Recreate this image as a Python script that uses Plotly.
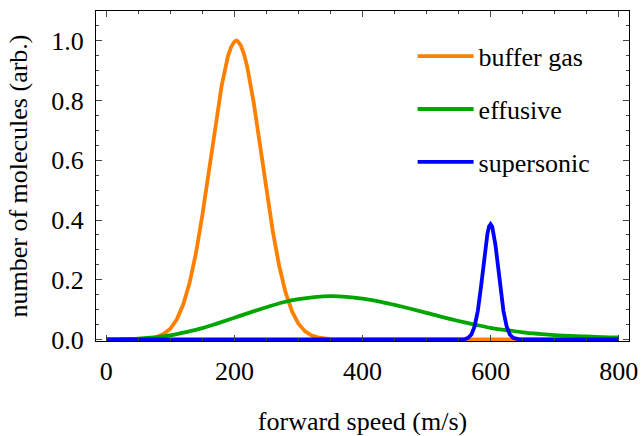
import plotly.graph_objects as go

# ---- data ----
buffer_x = [0, 50, 60, 70, 80, 90, 100, 110, 120, 130, 140, 150, 160, 170, 180, 190, 195, 200,
            202.5, 205, 207.5, 210, 215, 220, 230, 240, 250, 260, 270, 280, 290, 300, 310, 320,
            330, 340, 350, 360, 800]
buffer_y = [0.0, 0.0, 0.002, 0.004, 0.009, 0.019, 0.036, 0.067, 0.116, 0.189, 0.289, 0.416,
            0.561, 0.712, 0.848, 0.949, 0.980, 0.997, 1.001, 0.999, 0.994, 0.985, 0.956, 0.914,
            0.796, 0.652, 0.501, 0.362, 0.246, 0.157, 0.094, 0.053, 0.028, 0.014, 0.007,
            0.003, 0.001, 0.0, 0.0]

effusive_x = [0, 25, 50, 75, 100, 125, 150, 175, 200, 225, 250, 275, 300, 325, 350, 375, 400,
              425, 450, 475, 500, 525, 550, 575, 600, 625, 650, 675, 700, 725, 750, 775, 800]
effusive_y = [0.0, 0.001, 0.003, 0.007, 0.014, 0.025, 0.038, 0.055, 0.073, 0.091, 0.108,
              0.124, 0.135, 0.142, 0.145, 0.143, 0.137, 0.128, 0.116, 0.103, 0.089, 0.075,
              0.062, 0.050, 0.039, 0.031, 0.024, 0.019, 0.015, 0.012, 0.010, 0.008, 0.007]

super_x = [0, 550, 555, 560, 565, 570, 575, 580, 585, 590, 592.5, 595, 597.5, 600, 602.5, 605,
           607.5, 610, 615, 620, 625, 630, 635, 640, 645, 650, 800]
super_y = [0.0, 0.0, 0.0003, 0.0015, 0.0055, 0.017, 0.044, 0.096, 0.177, 0.273, 0.317, 0.354,
           0.378, 0.386, 0.378, 0.354, 0.317, 0.273, 0.177, 0.096, 0.044, 0.017, 0.0055,
           0.0015, 0.0003, 0.0, 0.0]

names = ["buffer gas", "effusive", "supersonic"]
colors = ["#FF8000", "#00A600", "#0000FF"]
shapes = ["linear", "spline", "linear"]

x_ticks = [0, 200, 400, 600, 800]
y_ticks = [0.0, 0.2, 0.4, 0.6, 0.8, 1.0]

FONT = "'Liberation Serif', 'DejaVu Serif', serif"

fig = go.Figure()
for i, (xs, ys) in enumerate([(buffer_x, buffer_y), (effusive_x, effusive_y), (super_x, super_y)]):
    fig.add_trace(go.Scatter(
        x=xs, y=ys, mode="lines", name=names[i], legendgroup=names[i],
        line=dict(color=colors[i], width=3.8, shape=shapes[i]),
    ))

axis_common = dict(
    showgrid=False, zeroline=False, showline=True, linecolor="black", linewidth=1,
    mirror="allticks", ticks="inside", ticklen=6, tickcolor="#444", tickwidth=1,
    tickfont=dict(family=FONT, size=26, color="black"), automargin=False,
)

fig.update_xaxes(
    **axis_common, range=[-16, 816], tickvals=x_ticks, ticklabelstandoff=7,
    minor=dict(dtick=50, tick0=0, ticklen=3, ticks="inside", tickcolor="#444"),
    title=dict(text="forward speed (m/s)", font=dict(family=FONT, size=26, color="black"), standoff=38),
)
fig.update_yaxes(
    **axis_common, range=[-0.005, 1.1], tickvals=y_ticks, tickformat=".1f", ticklabelstandoff=6,
    minor=dict(dtick=0.05, tick0=0, ticklen=3, ticks="inside", tickcolor="#444"),
    title=dict(text="number of molecules (arb.)", font=dict(family=FONT, size=26, color="black"), standoff=16),
)

fig.update_layout(
    width=641, height=436,
    margin=dict(l=96, r=12, t=11, b=95),
    paper_bgcolor="white", plot_bgcolor="white",
    font=dict(family=FONT, size=26, color="black"),
    legend=dict(x=0.594, y=0.934, xanchor="left", yanchor="top", bgcolor="rgba(0,0,0,0)",
                font=dict(family=FONT, size=26, color="black"), tracegroupgap=16,
                itemwidth=56),
)

fig.write_html("out.html", config={"displayModeBar": False},
               post_script="document.body.style.margin='0';document.body.style.overflow='hidden';")
